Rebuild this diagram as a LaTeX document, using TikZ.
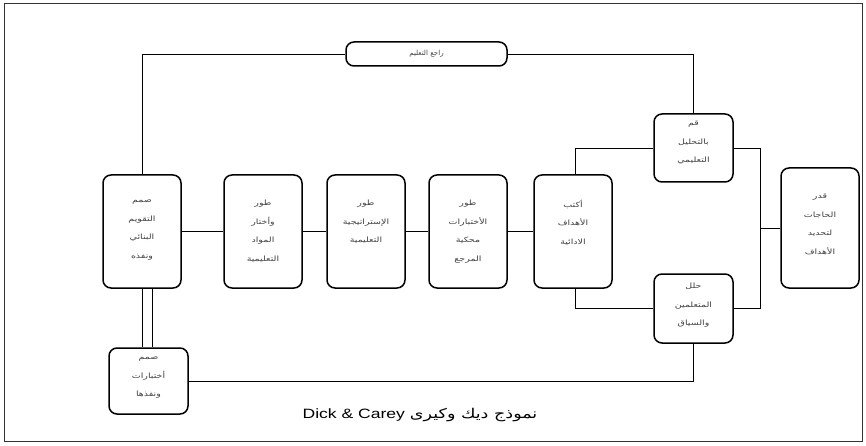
\documentclass[tikz,border=0pt]{standalone}
\usepackage{fontspec}
\setmainfont{Liberation Sans}
\newfontfamily\arabicfont[Script=Arabic]{DejaVu Sans}
\TeXXeTstate=1
\newcommand{\AR}[1]{\scalebox{1.3}[1]{\beginR #1\endR}}
\newcommand{\ARn}[1]{\beginR #1\endR}
\begin{document}
\begin{tikzpicture}[x=1pt,y=-1pt,
  box/.style={draw, line width=1.5pt, rounded corners=8pt, inner sep=0pt},
  txt/.style={font=\arabicfont\fontsize{7.3}{18.5}\selectfont, text=black!75, align=center, anchor=north, inner sep=0pt},
  conn/.style={line width=0.8pt}]
\useasboundingbox (0,0) rectangle (866,446);
\draw[line width=1pt, black!80] (4,4) rectangle (862,441);

% boxes
\node[box, minimum width=161, minimum height=24] (review) at (426.5,54) {};
\node[font=\arabicfont\fontsize{7}{9}\selectfont, text=black!75, inner sep=0pt] (reviewt) at (426.5,54) {\ARn{راجع التعليم}};
\node[box, minimum width=78, minimum height=113] (formative) at (142,231.5) {};
\node[box, minimum width=78, minimum height=113] (materials) at (263,231.5) {};
\node[box, minimum width=78, minimum height=113] (strategy) at (366,231.5) {};
\node[box, minimum width=78, minimum height=113] (crt) at (468,231.5) {};
\node[box, minimum width=78, minimum height=113] (objectives) at (573,231.5) {};
\node[box, minimum width=79, minimum height=68] (analyze) at (693.5,148) {};
\node[box, minimum width=79, minimum height=69] (learners) at (693.5,308.5) {};
\node[box, minimum width=78, minimum height=120] (needs) at (820,228) {};
\node[box, minimum width=79, minimum height=66] (tests) at (148.5,381) {};

% texts
\node[txt] (t1) at (142,200) {\AR{صمم}\\\AR{التقويم}\\\AR{البنائي}\\\AR{ونفذه}};
\node[txt] (t2) at (263,200) {\AR{طور}\\\AR{وأختار}\\\AR{المواد}\\\AR{التعليمية}};
\node[txt] (t3) at (366,200) {\AR{طور}\\\AR{الإستراتيجية}\\\AR{التعليمية}};
\node[txt] (t4) at (468,200) {\AR{طور}\\\AR{الأختبارات}\\\AR{محكية}\\\AR{المرجع}};
\node[txt] (t5) at (573,200) {\AR{أكتب}\\\AR{الأهداف}\\\AR{الادائية}};
\node[txt] (t6) at (693.5,121) {\AR{قم}\\\AR{بالتحليل}\\\AR{التعليمي}};
\node[txt] (t7) at (693.5,283) {\AR{حلل}\\\AR{المتعلمين}\\\AR{والسياق}};
\node[txt] (t8) at (820,194) {\AR{قدر}\\\AR{الحاجات}\\\AR{لتحديد}\\\AR{الأهداف}};
\node[txt] (t9) at (148.5,357) {\AR{صمم}\\\AR{أختبارات}\\\AR{ونفذها}};

% caption
\node[font=\fontsize{13.5}{15}\selectfont, inner sep=0pt] (cap) at (420,415)
  {\scalebox{1.3}[1]{Dick \& Carey {\arabicfont\beginR نموذج ديك وكيرى\endR}}};

% connectors
\draw[conn] (formative.east) -- (materials.west);
\draw[conn] (materials.east) -- (strategy.west);
\draw[conn] (strategy.east) -- (crt.west);
\draw[conn] (crt.east) -- (objectives.west);

\draw[conn] (formative.north) -- (formative.north |- review.west) -- (review.west);
\draw[conn] (review.east) -- (review.east -| analyze.north) -- (analyze.north);

\draw[conn] ([xshift=2]objectives.north) -- ([xshift=2]objectives.north |- analyze.west) -- (analyze.west);
\draw[conn] ([xshift=2]objectives.south) -- ([xshift=2]objectives.south |- learners.west) -- (learners.west);

\coordinate (br) at (760,0);
\draw[conn] (analyze.east) -- (analyze.east -| br) -- (learners.east -| br) -- (learners.east);
\draw[conn] (needs.west) -- (needs.west -| br);

\draw[conn] ([xshift=0.5]formative.south) -- ([xshift=0.5]formative.south |- tests.north);
\draw[conn] ([xshift=10]formative.south) -- ([xshift=10]formative.south |- tests.north);

\draw[conn] (tests.east) -- (tests.east -| learners.south) -- (learners.south);
\end{tikzpicture}
\end{document}
